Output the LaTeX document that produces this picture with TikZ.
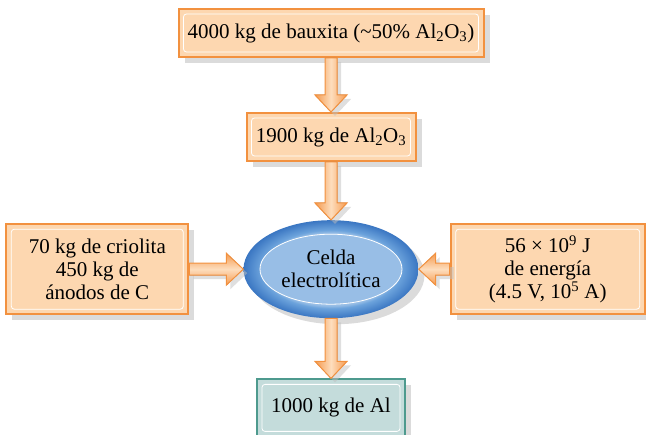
\documentclass[tikz,border=0pt]{standalone}
\usepackage{fontspec}
\setmainfont{Liberation Serif}
\usepackage{tikz}
\usetikzlibrary{positioning,shapes.geometric,calc,shadows}

\definecolor{boxfill}{HTML}{FDD7B0}
\definecolor{boxline}{HTML}{F2913F}
\definecolor{arrowfill}{HTML}{F59A4E}
\definecolor{arrowlight}{HTML}{FDDDBD}
\definecolor{alfill}{HTML}{C4DCDB}
\definecolor{alline}{HTML}{4E9A8E}
\definecolor{cellout}{HTML}{3A76C2}
\definecolor{cellmid}{HTML}{6CA3DC}
\definecolor{cellin}{HTML}{98BEE6}
\pgfdeclareradialshading{cellshade}{\pgfpoint{0bp}{0bp}}{color(0bp)=(cellin); color(18.5bp)=(cellin); color(20bp)=(cellmid); color(25bp)=(cellout); color(50bp)=(cellout)}

\newcommand\fatarrow[3]{% shading angle, from, to
  \coordinate (fa-s) at (#2);
  \coordinate (fa-t) at (#3);
  \coordinate (fa-h) at ($(#3)!17pt!(#2)$);
  \filldraw[fat, shading angle=#1]
    ($(fa-s)!6pt!90:(fa-t)$) -- ($(fa-h)!6pt!-90:(fa-s)$) -- ($(fa-h)!16pt!-90:(fa-s)$)
    -- (fa-t) -- ($(fa-h)!16pt!90:(fa-s)$) -- ($(fa-h)!6pt!90:(fa-s)$)
    -- ($(fa-s)!6pt!-90:(fa-t)$) -- cycle;}

\begin{document}
\begin{tikzpicture}[x=1pt, y=1pt, font=\fontsize{21}{23}\selectfont,
  shade/.style={drop shadow={shadow xshift=6pt, shadow yshift=-6pt, fill=black!28}},
  box/.style={draw=boxline, line width=2pt, fill=boxfill, inner sep=0pt, align=center, shade,
    path picture={\draw[white, line width=0.8pt, rounded corners=3pt]
      ([shift={(5pt,5pt)}]path picture bounding box.south west) rectangle
      ([shift={(-5pt,-5pt)}]path picture bounding box.north east);}},
  cell/.style={ellipse, shading=cellshade, inner sep=0pt, align=center, shade,
    minimum width=175pt, minimum height=98pt,
    path picture={\draw[white, line width=0.8pt, fill=cellin]
      (path picture bounding box.center) ellipse [x radius=71pt, y radius=35pt];}},
  fat/.style={draw=boxline, line width=1pt, left color=arrowfill, right color=arrowfill,
    middle color=arrowlight, drop shadow={shadow xshift=4pt, shadow yshift=-4pt, fill=black!25}}]
\useasboundingbox (0,0) rectangle (646,-435);
\node[box, minimum width=305pt, minimum height=48pt] (bauxita) at (331,-33)
  {4000 kg de bauxita (\textasciitilde50\% Al\textsubscript{2}O\textsubscript{3})};
\node[box, minimum width=169pt, minimum height=48pt, below=54pt of bauxita] (alumina)
  {1900 kg de Al\textsubscript{2}O\textsubscript{3}};
\node[cell, below=58pt of alumina] (celda) {Celda\\electrolítica};
\node[box, minimum width=182pt, minimum height=90pt, left=54pt of celda] (criolita)
  {70 kg de criolita\\450 kg de\\ánodos de C};
\node[box, minimum width=194pt, minimum height=90pt, right=31pt of celda] (energia)
  {56 × 10\textsuperscript{9} J\\de energía\\(4.5 V, 10\textsuperscript{5} A)};
\node[box, draw=alline, fill=alfill, minimum width=148pt, minimum height=57pt, below=60pt of celda] (aluminio)
  {1000 kg de Al};
\fatarrow{90}{bauxita.south}{alumina.north}
\fatarrow{90}{alumina.south}{celda.north}
\fatarrow{0}{criolita.east}{celda.west}
\fatarrow{0}{energia.west}{celda.east}
\fatarrow{90}{celda.south}{aluminio.north}
\end{tikzpicture}
\end{document}
